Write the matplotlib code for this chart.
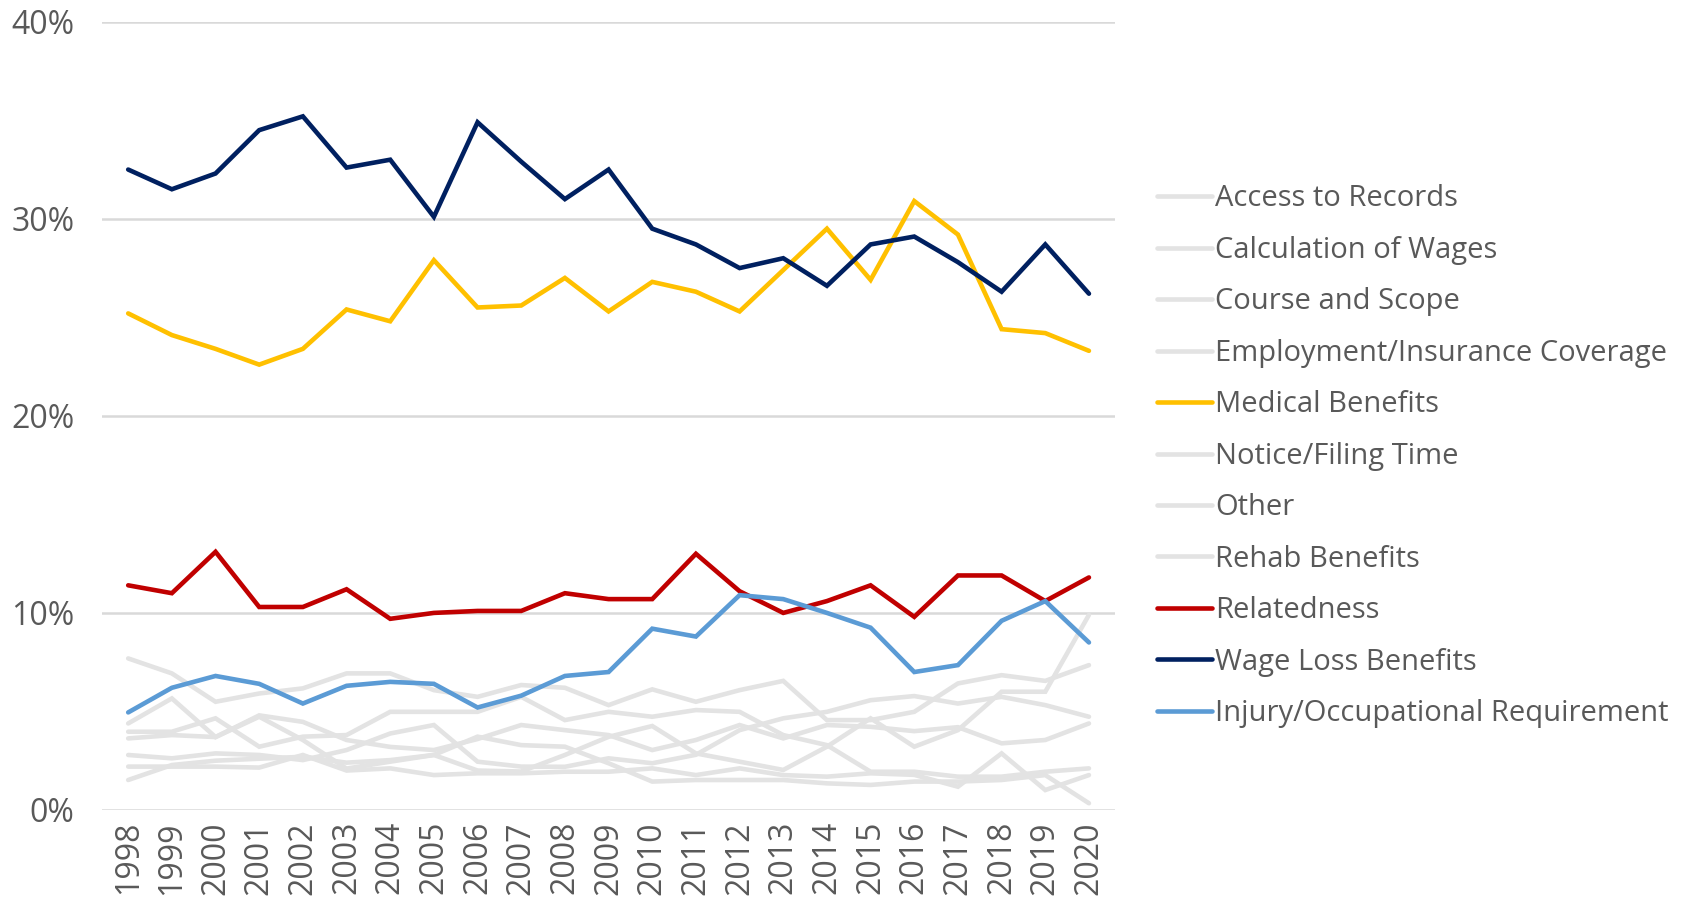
import matplotlib.pyplot as plt
from matplotlib.ticker import FuncFormatter


YEARS = list(range(1998, 2021))

ACCESS_TO_RECORDS = [7.69, 6.93, 5.49, 5.91, 6.17, 6.93, 6.93, 6.08, 5.74, 6.34, 6.2, 5.32,
                     6.12, 5.49, 6.08, 6.55, 4.56, 4.56, 4.98, 6.42, 6.84, 6.55, 7.35]
CALCULATION_OF_WAGES = [4.39, 5.66, 3.7, 4.8, 4.47, 3.55, 3.2, 3.04, 3.6, 4.31, 4.05, 3.8,
                        3.04, 3.55, 4.31, 3.63, 4.31, 4.22, 4.0, 4.2, 3.38, 3.55, 4.39]
COURSE_AND_SCOPE = [3.97, 3.97, 4.65, 3.21, 3.72, 3.8, 4.98, 4.98, 4.98, 5.74, 4.56, 4.98,
                    4.73, 5.07, 4.98, 3.8, 3.29, 1.94, 1.94, 1.69, 1.69, 1.94, 2.11]
EMPLOYMENT_COVERAGE = [3.63, 3.8, 3.7, 4.73, 3.55, 2.1, 2.45, 2.79, 3.72, 3.29, 3.21, 2.37,
                       1.44, 1.52, 1.52, 1.52, 1.35, 1.27, 1.44, 1.44, 1.52, 1.77, 0.34]
MEDICAL_BENEFITS = [25.2, 24.1, 23.4, 22.6, 23.4, 25.4, 24.8, 27.9, 25.5, 25.6, 27.0, 25.3,
                    26.8, 26.3, 25.3, 27.4, 29.5, 26.9, 30.9, 29.2, 24.4, 24.2, 23.3]
NOTICE_FILING_TIME = [2.79, 2.62, 2.87, 2.79, 2.53, 3.04, 3.88, 4.31, 2.45, 2.2, 2.19, 2.62,
                      2.37, 2.8, 4.05, 4.65, 4.98, 5.57, 5.78, 5.4, 5.74, 5.32, 4.73]
OTHER = [2.2, 2.2, 2.2, 2.15, 2.79, 2.0, 2.11, 1.77, 1.86, 1.86, 1.94, 1.94,
         2.11, 1.77, 2.11, 1.77, 1.69, 1.86, 1.78, 1.18, 2.87, 1.01, 1.77]
REHAB_BENEFITS = [1.52, 2.28, 2.5, 2.6, 2.7, 2.4, 2.53, 2.79, 2.0, 1.95, 2.79, 3.71,
                  4.26, 2.87, 2.45, 2.03, 3.21, 4.65, 3.21, 4.05, 6.0, 6.0, 9.9]
RELATEDNESS = [11.4, 11.0, 13.1, 10.3, 10.3, 11.2, 9.7, 10.0, 10.1, 10.1, 11.0, 10.7,
               10.7, 13.0, 11.1, 10.0, 10.6, 11.4, 9.8, 11.9, 11.9, 10.6, 11.8]
WAGE_LOSS_BENEFITS = [32.5, 31.5, 32.3, 34.5, 35.2, 32.6, 33.0, 30.1, 34.9, 32.9, 31.0, 32.5,
                      29.5, 28.7, 27.5, 28.0, 26.6, 28.7, 29.1, 27.8, 26.3, 28.7, 26.2]
INJURY_REQUIREMENT = [4.95, 6.2, 6.8, 6.4, 5.4, 6.3, 6.5, 6.4, 5.2, 5.8, 6.8, 7.0,
                      9.2, 8.8, 10.9, 10.7, 10.0, 9.25, 7.0, 7.35, 9.6, 10.6, 8.5]

GREY = '#e3e3e3'
TEXT_COLOR = '#595959'

SERIES = [
    ('Access to Records', ACCESS_TO_RECORDS, GREY),
    ('Calculation of Wages', CALCULATION_OF_WAGES, GREY),
    ('Course and Scope', COURSE_AND_SCOPE, GREY),
    ('Employment/Insurance Coverage', EMPLOYMENT_COVERAGE, GREY),
    ('Medical Benefits', MEDICAL_BENEFITS, '#ffc000'),
    ('Notice/Filing Time', NOTICE_FILING_TIME, GREY),
    ('Other', OTHER, GREY),
    ('Rehab Benefits', REHAB_BENEFITS, GREY),
    ('Relatedness', RELATEDNESS, '#c00000'),
    ('Wage Loss Benefits', WAGE_LOSS_BENEFITS, '#002060'),
    ('Injury/Occupational Requirement', INJURY_REQUIREMENT, '#5b9bd5'),
]


def draw_lines(axes):
    for name, values, color in SERIES:
        axes.plot(YEARS, values, color=color, linewidth=3.3, label=name,
                  solid_joinstyle='miter', solid_capstyle='round')


def style_axes(axes):
    axes.set_ylim(0, 40)
    axes.set_xlim(YEARS[0] - 0.6, YEARS[-1] + 0.6)
    axes.set_yticks(range(0, 41, 10))
    axes.yaxis.set_major_formatter(FuncFormatter(lambda v, _: f'{v:.0f}%'))
    axes.set_xticks(YEARS)
    axes.set_xticklabels([str(y) for y in YEARS], rotation=90)
    axes.grid(axis='y', color='#d9d9d9', linewidth=1.8)
    axes.set_axisbelow(True)
    for spine in axes.spines.values():
        spine.set_visible(False)
    axes.tick_params(length=0, labelsize=23, colors=TEXT_COLOR)
    axes.tick_params(axis='y', pad=20)
    axes.tick_params(axis='x', pad=8)


def create_figure():
    plt.rcParams['font.family'] = ['Open Sans', 'DejaVu Sans']
    figure = plt.figure(figsize=(16.83, 9.07), dpi=100)
    axes = figure.add_axes([0.0606, 0.107, 0.602, 0.869])
    draw_lines(axes)
    style_axes(axes)
    legend = axes.legend(loc='center left', bbox_to_anchor=(0.6876, 0.497),
                         bbox_transform=figure.transFigure, frameon=False,
                         fontsize=21, handlelength=1.88, handletextpad=0.1,
                         labelspacing=0.77, borderpad=0, borderaxespad=0)
    for text in legend.get_texts():
        text.set_color(TEXT_COLOR)
    figure.savefig('out.png', dpi=100)


if __name__ == '__main__':
    create_figure()
